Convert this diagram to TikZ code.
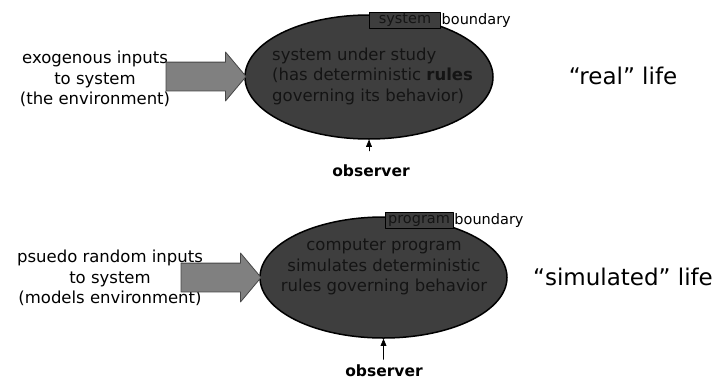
\documentclass[tikz,border=0pt]{standalone}
\usepackage{fontspec}
\setmainfont{DejaVu Sans}
\usepackage{tikz}
\usetikzlibrary{shapes.geometric}
\usetikzlibrary{shapes.arrows}
\usetikzlibrary{positioning}
\usetikzlibrary{arrows}
\definecolor{blobgray}{RGB}{62,62,62}
\definecolor{inktext}{RGB}{20,20,20}
\definecolor{arrowgray}{RGB}{128,128,128}
\definecolor{arrowedge}{RGB}{70,70,70}
\begin{document}
\begin{tikzpicture}[line cap=round,line join=round,>=triangle 45,x=1pt,y=-1pt]
\useasboundingbox (0,0) rectangle (725,383);
\tikzstyle{blob}=[ellipse, draw=black, line width=1.5pt, fill=blobgray, inner sep=0pt]
\tikzstyle{txt}=[font=\fontsize{16.5}{20.5}\selectfont, align=center, inner sep=0pt]
\tikzstyle{intxt}=[txt, text=inktext]
\tikzstyle{bigarrow}=[single arrow, draw=arrowedge, fill=arrowgray, line width=0.8pt, minimum height=80pt, text height=14pt, text depth=14pt, single arrow head extend=10pt, single arrow tip angle=100, inner sep=0pt]
\tikzstyle{bound}=[draw=black, line width=0.6pt, fill=blobgray, text=inktext, font=\fontsize{14.5}{16}\selectfont, inner ysep=0pt, text height=10.5pt, text depth=3pt, minimum height=16pt]
\tikzstyle{obs}=[font=\fontsize{15.5}{18}\selectfont\bfseries, inner sep=0pt, text depth=0pt]
\tikzstyle{life}=[font=\fontsize{23}{26}\selectfont, inner sep=0pt]

% real life
\node[blob, minimum width=248pt, minimum height=124pt] (sysA) at (369,77) {};
\node[intxt, align=left, anchor=west] (rulesA) at (272,76) {system under study\\(has deterministic \textbf{rules}\\governing its behavior)};
\node[bound, inner xsep=9pt] (boxA) at (405,20) {system};
\node[txt, font=\fontsize{14.5}{16}\selectfont, right=1pt of boxA] (bndA) {boundary};
\node[txt] (envA) at (95,79) {exogenous inputs\\to system\\(the environment)};
\node[bigarrow] (inA) at (200,76.5) {};
\node[obs] (obsA) at (371,171) {observer};
\draw[->, line width=0.6pt] ([yshift=14pt]obsA.north -| sysA.south) -- (sysA.south);
\node[life] (lifeA) at (623,76) {“real” life};

% simulated life
\node[blob, minimum width=247pt, minimum height=121pt] (sysB) at (383.5,277.5) {};
\node[intxt] (rulesB) at (384,267) {computer program\\simulates deterministic\\rules governing behavior};
\node[bound, inner xsep=3pt] (boxB) at (419,220) {program};
\node[txt, font=\fontsize{14.5}{16}\selectfont, right=1pt of boxB] (bndB) {boundary};
\node[txt] (envB) at (110,278) {psuedo random inputs\\to system\\(models environment)};
\node[bigarrow] (inB) at (215,277.5) {};
\node[obs] (obsB) at (384,370.5) {observer};
\draw[->, line width=0.6pt] ([yshift=5pt]obsB.north -| sysB.south) -- (sysB.south);
\node[life] (lifeB) at (623,277) {“simulated” life};
\end{tikzpicture}
\end{document}
